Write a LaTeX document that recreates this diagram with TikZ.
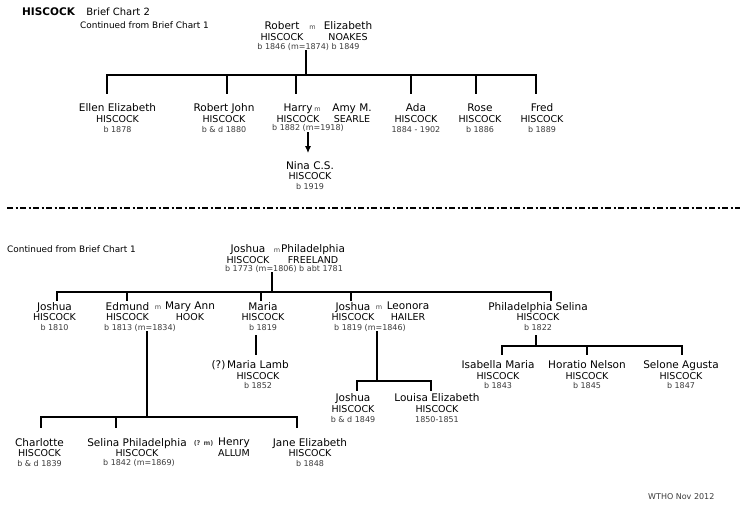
\documentclass[tikz,border=0pt]{standalone}
\usepackage{fontspec}
\setmainfont{DejaVu Sans}
\usepackage{xcolor}
\usepackage{tikz}
\usetikzlibrary{arrows.meta,positioning}
\definecolor{dategray}{RGB}{60,60,60}
\definecolor{markgray}{RGB}{70,70,70}
\newcommand\fname{\fontsize{10.5}{10.7}\selectfont}
\newcommand\fsur{\fontsize{9.5}{10.7}\selectfont}
\newcommand\fdate{\fontsize{8}{10}\selectfont\color{dategray}}
\newcommand\fnote{\fontsize{8.9}{10}\selectfont}

\begin{document}
\begin{tikzpicture}[
    x=1pt, y=-1pt,
    pers/.style={align=center, inner sep=0pt, anchor=north, font=\fname},
    wed/.style={inner sep=0pt, anchor=base, font=\fontsize{6.5}{7}\selectfont, text=markgray},
    dat/.style={inner sep=0pt, anchor=base, font=\fontsize{8}{10}\selectfont, text=dategray},
    note/.style={inner sep=0pt, anchor=base west, font=\fnote},
    link/.style={line width=1.2pt, line cap=rect},
    arr/.style={-{Latex[length=7pt,width=6pt]}, line width=1.2pt},
    sep/.style={line width=2.4pt, dash pattern=on 6pt off 2.5pt on 2pt off 2.5pt}
]
\fill[white] (0,0) rectangle (748,521);
\useasboundingbox (0,0) rectangle (748,521);

% header
\node[note, font=\fontsize{10.5}{12}\selectfont\bfseries] (title) at (22,15.7) {HISCOCK};
\node[note, font=\fontsize{10}{12}\selectfont, right=11pt of title.base east, anchor=base west] (chart) {Brief Chart 2};
\node[note] (cont1) at (80,28.3) {Continued from Brief Chart 1};

% Robert and Elizabeth
\node[pers] (robert) at (282,21.4) {Robert\\{\fsur HISCOCK}};
\node[wed] (m1) at (312.5,29.3) {m};
\node[pers] (elizabeth) at (348,21.4) {Elizabeth\\{\fsur NOAKES}};
\node[dat] (rdate) at (308.5,49.3) {b 1846 (m=1874) b 1849};

\node[pers] (ellen) at (117.5,103.8) {Ellen Elizabeth\\{\fsur HISCOCK}\\[-1pt]{\fdate b 1878}};
\node[pers] (robjohn) at (224,103.8) {Robert John\\{\fsur HISCOCK}\\[-1pt]{\fdate b \& d 1880}};
\node[pers] (harry) at (298,103.8) {Harry\\{\fsur HISCOCK}};
\node[wed] (m2) at (317.5,111.7) {m};
\node[pers] (amy) at (352,103.8) {Amy M.\\{\fsur SEARLE}};
\node[dat] (hdate) at (308,131) {b 1882 (m=1918)};
\node[pers] (ada) at (416,103.8) {Ada\\{\fsur HISCOCK}\\[-1pt]{\fdate 1884 - 1902}};
\node[pers] (rose) at (480,103.8) {Rose\\{\fsur HISCOCK}\\[-1pt]{\fdate b 1886}};
\node[pers] (fred) at (542,103.8) {Fred\\{\fsur HISCOCK}\\[-1pt]{\fdate b 1889}};
\node[pers] (nina) at (310,161.1) {Nina C.S.\\{\fsur HISCOCK}\\[-1pt]{\fdate b 1919}};

\coordinate (bar1) at (306,75);
\coordinate (ellen-up) at (107,75);
\coordinate (robjohn-up) at (227,75);
\coordinate (harry-up) at (296,75);
\coordinate (ada-up) at (411,75);
\coordinate (rose-up) at (476,75);
\coordinate (fred-up) at (536,75);
\draw[link] (rdate.south -| bar1) -- (bar1);
\draw[link] (ellen-up) -- (fred-up);
\draw[link] (ellen-up) -- ++(0,18) (robjohn-up) -- ++(0,18) (harry-up) -- ++(0,18)
    (ada-up) -- ++(0,18) (rose-up) -- ++(0,18) (fred-up) -- ++(0,18);
\draw[arr, shorten >=8pt] (hdate.south) -- (hdate.south |- nina.north);

% break between the two charts
\coordinate (sepL) at (7,208);
\coordinate (sepR) at (740,208);
\draw[sep] (sepL) -- (sepR);

% Joshua and Philadelphia
\node[note] (cont2) at (7,252.3) {Continued from Brief Chart 1};
\node[pers] (joshsen) at (248,244.4) {Joshua\\{\fsur HISCOCK}};
\node[wed] (m3) at (277,252.3) {m};
\node[pers] (phil) at (313,244.4) {Philadelphia\\{\fsur FREELAND}};
\node[dat] (jdate) at (284,271.7) {b 1773 (m=1806) b abt 1781};

\node[pers] (joshua) at (54.5,302.1) {Joshua\\{\fsur HISCOCK}\\[-1pt]{\fdate b 1810}};
\node[pers] (edmund) at (127.5,302.1) {Edmund\\{\fsur HISCOCK}};
\node[wed] (m4) at (158,310) {m};
\node[pers] (maryann) at (190,302.1) {Mary Ann\\{\fsur HOOK}};
\node[dat] (edate) at (140,330.5) {b 1813 (m=1834)};
\node[pers] (maria) at (263,302.1) {Maria\\{\fsur HISCOCK}\\[-1pt]{\fdate b 1819}};
\node[pers] (joshjun) at (353,302.1) {Joshua\\{\fsur HISCOCK}};
\node[wed] (m5) at (379,310) {m};
\node[pers] (leonora) at (408,302.1) {Leonora\\{\fsur HAILER}};
\node[dat] (ldate) at (370,330.5) {b 1819 (m=1846)};
\node[pers] (philsel) at (538,302.1) {Philadelphia Selina\\{\fsur HISCOCK}\\[-1pt]{\fdate b 1822}};

\node[pers] (marialamb) at (258,360.4) {\llap{(?)\,}Maria Lamb\\{\fsur HISCOCK}\\[-1pt]{\fdate b 1852}};
\node[pers] (isabella) at (498,360.4) {Isabella Maria\\{\fsur HISCOCK}\\[-1pt]{\fdate b 1843}};
\node[pers] (horatio) at (587,360.4) {Horatio Nelson\\{\fsur HISCOCK}\\[-1pt]{\fdate b 1845}};
\node[pers] (selone) at (681,360.4) {Selone Agusta\\{\fsur HISCOCK}\\[-1pt]{\fdate b 1847}};
\node[pers] (joshbaby) at (353,393.8) {Joshua\\{\fsur HISCOCK}\\[-1pt]{\fdate b \& d 1849}};
\node[pers] (louisa) at (437,393.8) {Louisa Elizabeth\\{\fsur HISCOCK}\\[-1pt]{\fdate 1850-1851}};

\node[pers] (charlotte) at (39.5,438.1) {Charlotte\\{\fsur HISCOCK}\\[-1pt]{\fdate b \& d 1839}};
\node[pers] (selina) at (137,438.1) {Selina Philadelphia\\{\fsur HISCOCK}};
\node[wed, font=\fontsize{6.5}{7}\selectfont\bfseries] (m6) at (203.5,446) {(? m)};
\node[pers] (henry) at (234,438.1) {Henry\\{\fsur ALLUM}};
\node[dat] (sdate) at (139,466) {b 1842 (m=1869)};
\node[pers] (jane) at (310,438.1) {Jane Elizabeth\\{\fsur HISCOCK}\\[-1pt]{\fdate b 1848}};

\node[dat, anchor=base west] (wtho) at (648,500) {WTHO Nov 2012};

% lines of descent
\coordinate (bar2) at (272,292);
\coordinate (joshua-up) at (57,292);
\coordinate (edmund-up) at (127,292);
\coordinate (maria-up) at (261,292);
\coordinate (joshjun-up) at (351,292);
\coordinate (philsel-up) at (551,292);
\draw[link] (jdate.south -| bar2) -- (bar2);
\draw[link] (joshua-up) -- (philsel-up);
\draw[link] (joshua-up) -- ++(0,8) (edmund-up) -- ++(0,8) (maria-up) -- ++(0,8)
    (joshjun-up) -- ++(0,8) (philsel-up) -- ++(0,8);

\coordinate (bar3) at (147,417);
\coordinate (charlotte-up) at (41,417);
\coordinate (selina-up) at (116,417);
\coordinate (jane-up) at (297,417);
\draw[link] (edate.south -| bar3) -- (bar3);
\draw[link] (charlotte-up) -- (jane-up);
\draw[link] (charlotte-up) -- ++(0,10) (selina-up) -- ++(0,10) (jane-up) -- ++(0,10);

\coordinate (bar4) at (256,354);
\draw[link, shorten <=5pt] (maria.south -| bar4) -- (bar4);

\coordinate (bar5) at (377,381);
\coordinate (joshbaby-up) at (357,381);
\coordinate (louisa-up) at (431,381);
\draw[link] (ldate.south -| bar5) -- (bar5);
\draw[link] (joshbaby-up) -- (louisa-up);
\draw[link] (joshbaby-up) -- ++(0,9) (louisa-up) -- ++(0,9);

\coordinate (bar6) at (536,346);
\coordinate (isabella-up) at (502,346);
\coordinate (horatio-up) at (587,346);
\coordinate (selone-up) at (682,346);
\draw[link, shorten <=5pt] (philsel.south -| bar6) -- (bar6);
\draw[link] (isabella-up) -- (selone-up);
\draw[link] (isabella-up) -- ++(0,8) (horatio-up) -- ++(0,8) (selone-up) -- ++(0,8);

\end{tikzpicture}
\end{document}
